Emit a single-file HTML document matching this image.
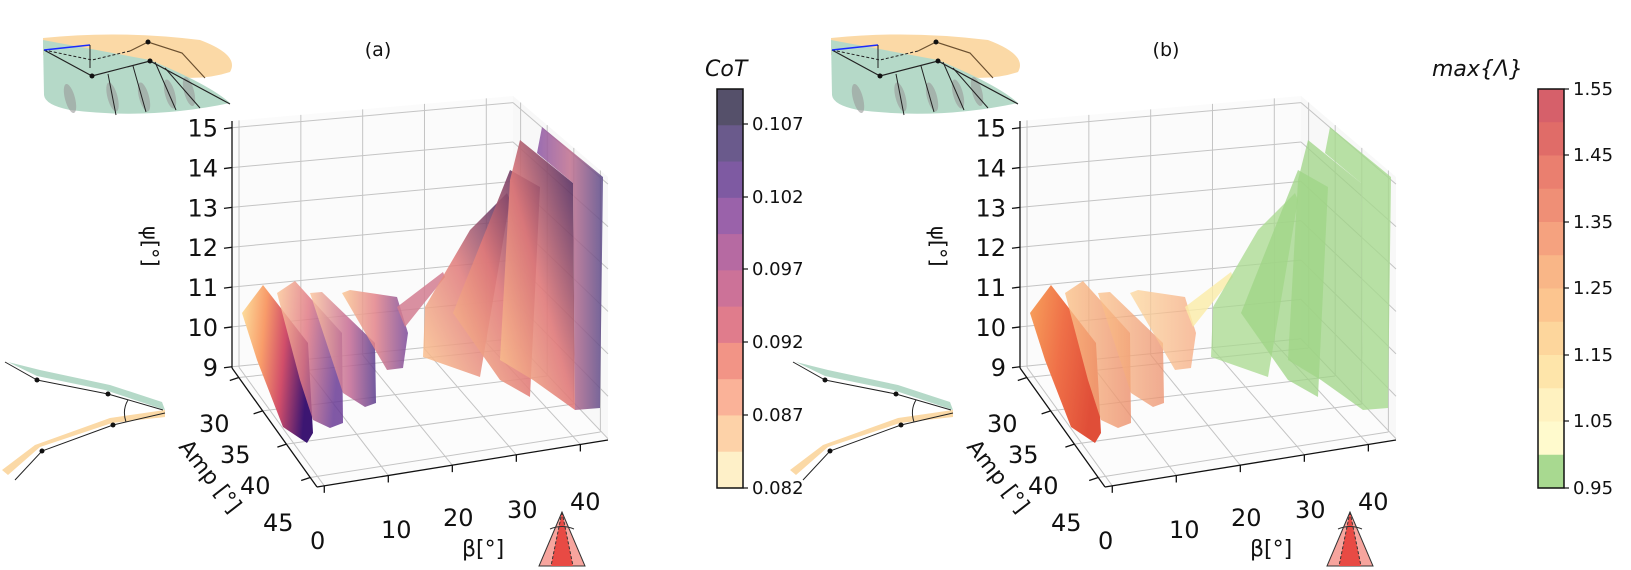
<!DOCTYPE html>
<html><head><meta charset="utf-8"><style>
body{margin:0;background:#fff;}
svg{display:block;font-family:"DejaVu Sans","Liberation Sans",sans-serif;}
</style></head><body>
<svg id="s" width="1631" height="570" viewBox="0 0 1631 570" xmlns="http://www.w3.org/2000/svg">
<defs>
<linearGradient id="ga1" x1="0" y1="0" x2="1" y2="0.2"><stop offset="0" stop-color="#fde3a0"/><stop offset="0.35" stop-color="#f89c6a"/><stop offset="0.65" stop-color="#d14e6a"/><stop offset="1" stop-color="#3c1672"/></linearGradient>
<linearGradient id="ga2" x1="0" y1="0" x2="1" y2="0.2"><stop offset="0" stop-color="#fcc99a"/><stop offset="0.5" stop-color="#e07a86"/><stop offset="1" stop-color="#6a3c96"/></linearGradient>
<linearGradient id="ga3" x1="0" y1="0" x2="1" y2="0"><stop offset="0" stop-color="#fcc7a0"/><stop offset="0.6" stop-color="#c56b94"/><stop offset="1" stop-color="#5a3d8e"/></linearGradient>
<linearGradient id="ga4" x1="0" y1="0" x2="1" y2="0"><stop offset="0" stop-color="#fbc895"/><stop offset="0.5" stop-color="#e3838a"/><stop offset="1" stop-color="#7a4a9a"/></linearGradient>
<linearGradient id="ga6" x1="0" y1="1" x2="1" y2="0"><stop offset="0" stop-color="#fdc890"/><stop offset="0.5" stop-color="#e07a7a"/><stop offset="1" stop-color="#3a1f5c"/></linearGradient>
<linearGradient id="ga9" x1="0" y1="0" x2="1" y2="0"><stop offset="0" stop-color="#8a55a5"/><stop offset="0.5" stop-color="#c0708f"/><stop offset="1" stop-color="#5a4a88"/></linearGradient>
<linearGradient id="gb1" x1="0" y1="0" x2="1" y2="0.3"><stop offset="0" stop-color="#f7a15c"/><stop offset="0.5" stop-color="#ef7048"/><stop offset="1" stop-color="#e04e38"/></linearGradient>
<linearGradient id="gb2" x1="0" y1="0" x2="1" y2="0"><stop offset="0" stop-color="#fbc289"/><stop offset="1" stop-color="#ec8f6c"/></linearGradient>
<linearGradient id="gb3" x1="0" y1="0" x2="1" y2="0"><stop offset="0" stop-color="#fdd89c"/><stop offset="1" stop-color="#f6a980"/></linearGradient>
</defs>
<g id="root"></g>
</svg>
<script>
var NS="http://www.w3.org/2000/svg",root=document.getElementById('root');
function el(t,a,txt){var e=document.createElementNS(NS,t);for(var k in a)e.setAttribute(k,a[k]);if(txt!=null)e.textContent=txt;root.appendChild(e);return e;}
function L(a,b,t){return [a[0]+(b[0]-a[0])*t,a[1]+(b[1]-a[1])*t];}
function line(p,q,c,w){el('line',{x1:p[0],y1:p[1],x2:q[0],y2:q[1],stroke:c,'stroke-width':w||1});}
function poly(pts,f,o,dx){el('polygon',{points:pts.map(function(p){return (p[0]+dx)+','+p[1]}).join(' '),fill:f,'fill-opacity':o});}
function txt(x,y,s,sz,extra){var a={x:x,y:y,'font-size':sz,fill:'#111'};for(var k in extra)a[k]=extra[k];el('text',a,s);}
function panel(dx,shapes,label){
 function P(p){return [p[0]+dx,p[1]];}
 var BL=P([232,368]),BR=P([513,340]),TR=P([513,96]),TL=P([232,121]),FL=P([317,487]),FR=P([608,440]),RT=P([608,177]);
 el('polygon',{points:[BL,BR,TR,TL].join(' '),fill:'#fbfbfb'});
 el('polygon',{points:[BL,BR,FR,FL].join(' '),fill:'#fcfcfc'});
 el('polygon',{points:[BR,FR,RT,TR].join(' '),fill:'#f8f8f8'});
 var g='#c4c4c4';
 var bt=[0.025,0.245,0.465,0.685,0.905];
 bt.forEach(function(t){line(L(BL,BR,t),L(TL,TR,t),g);line(L(BL,BR,t),L(FL,FR,t),g);});
 for(var i=0;i<7;i++){var t=i/6.2+0.005;line(L(BL,TL,t),L(BR,TR,t),g);line(L(BR,TR,t),L(FR,RT,t),g);}
 [0.08,0.36,0.64,0.92].forEach(function(t){line(L(BL,FL,t),L(BR,FR,t),g);line(L(BR,FR,t),L(TR,RT,t),g);});
 line(BL,TL,'#111',1.3);line(BL,FL,'#111',1.3);line(FL,FR,'#111',1.3);
 for(var i=0;i<7;i++){var p=L(BL,TL,i/6.2+0.005);line(p,[p[0]-8,p[1]+1],'#111',1.3);txt(p[0]-14,p[1]+9,''+(9+i),24,{'text-anchor':'end'});}
 var al=['30','35','40','45'];[0.08,0.36,0.64,0.92].forEach(function(t,i){var p=L(BL,FL,t);line(p,[p[0]-9,p[1]+3],'#111',1.3);});
 [[199,432],[220,463],[240,494],[263,531]].forEach(function(q,i){txt(q[0]+dx,q[1],al[i],24);});
 bt.forEach(function(t){var p=L(FL,FR,t);line(p,[p[0],p[1]+7],'#111',1.3);});
 [[310,549,'0'],[381,538,'10'],[443,526,'20'],[507,518,'30'],[570,510,'40']].forEach(function(q){txt(q[0]+dx,q[1],q[2],24);});
 txt(462+dx,556,'β[°]',22);
 el('text',{x:0,y:0,'font-size':21,fill:'#111',transform:'translate('+(143+dx)+',226) rotate(90)'},'ψ[°]');
 el('text',{x:0,y:0,'font-size':22,fill:'#111',transform:'translate('+(178+dx)+',447) rotate(52)'},'Amp [°]');
 txt(378+dx,56,label,19,{'text-anchor':'middle'});
 shapes.forEach(function(s){poly(s[0],s[1],s[2],dx);});
 var cx=562+dx;
 el('polygon',{points:(cx)+',512 '+(cx-23)+',566 '+(cx+23)+',566',fill:'#f7a59e',stroke:'#333','stroke-width':1});
 el('polygon',{points:(cx)+',512 '+(cx-11)+',566 '+(cx+11)+',566',fill:'#e84a44'});
 el('path',{d:'M'+cx+' 512 L'+(cx-11)+' 566 M'+cx+' 512 L'+(cx+11)+' 566',stroke:'#333','stroke-dasharray':'3,2',fill:'none'});
 el('path',{d:'M'+(cx-12)+' 529 Q'+cx+' 524 '+(cx+12)+' 529',stroke:'#333',fill:'none'});
}
function cbar(cb){
 var x0=cb.x,y0=89,h=399,w=26,n=cb.cols.length;
 cb.cols.forEach(function(c,i){el('rect',{x:x0,y:y0+h*i/n,width:w,height:h/n+0.5,fill:c});});
 el('rect',{x:x0,y:y0,width:w,height:h,fill:'none',stroke:'#111','stroke-width':1.5});
 cb.ticks.forEach(function(t){line([x0+w,t[0]],[x0+w+5,t[0]],'#111',1.2);txt(x0+w+9,t[0]+6,t[1],18);});
 txt(cb.tx,76,cb.title,22,{'font-style':'italic'});
}
function wings(dx){
 el('path',{d:'M'+(43+dx)+' 38 Q'+(120+dx)+' 30 '+(200+dx)+' 40 Q'+(240+dx)+' 55 '+(230+dx)+' 72 Q'+(200+dx)+' 82 '+(160+dx)+' 75 L'+(43+dx)+' 55Z',fill:'#fbd9a6'});
 el('path',{d:'M'+(43+dx)+' 40 L'+(150+dx)+' 60 Q'+(210+dx)+' 85 '+(230+dx)+' 103 Q'+(150+dx)+' 120 '+(70+dx)+' 110 Q'+(45+dx)+' 105 '+(44+dx)+' 95Z',fill:'#b5d9c8'});
 [[70,85,70,112],[110,80,115,114],[140,82,148,112],[162,80,178,108],[178,78,200,105]].forEach(function(f){el('ellipse',{cx:(f[0]+f[2])/2+dx,cy:(f[1]+f[3])/2,rx:5,ry:15,fill:'#999','fill-opacity':.6,transform:'rotate(-15 '+((f[0]+f[2])/2+dx)+' '+((f[1]+f[3])/2)+')'});});
 var pl=function(d,c,w,da){var a={d:d,stroke:c,'stroke-width':w||1.2,fill:'none'};if(da)a['stroke-dasharray']=da;el('path',a);};
 pl('M'+(44+dx)+' 50 L'+(92+dx)+' 76 L'+(150+dx)+' 61 L'+(230+dx)+' 104','#222');
 pl('M'+(44+dx)+' 50 L'+(92+dx)+' 60 L'+(130+dx)+' 51','#222',1,'3,2');
 pl('M'+(130+dx)+' 51 L'+(148+dx)+' 42 L'+(182+dx)+' 53 L'+(205+dx)+' 78','#6b5030');
 pl('M'+(44+dx)+' 50 L'+(90+dx)+' 45','#1a2bff',1.6);
 pl('M'+(90+dx)+' 45 L'+(90+dx)+' 68','#222',1);
 pl('M'+(108+dx)+' 74 L'+(116+dx)+' 115 M'+(133+dx)+' 66 L'+(146+dx)+' 112 M'+(155+dx)+' 62 L'+(176+dx)+' 110 M'+(165+dx)+' 68 L'+(200+dx)+' 108','#222',1);
 [[92,76],[150,61],[148,42]].forEach(function(p){el('circle',{cx:p[0]+dx,cy:p[1],r:2.5,fill:'#111'});});
}
function sketch(dx){
 el('path',{d:'M'+(8+dx)+' 362 L'+(37+dx)+' 376 L'+(105+dx)+' 390 L'+(165+dx)+' 410 L'+(162+dx)+' 402 L'+(110+dx)+' 385 L'+(40+dx)+' 370Z',fill:'#b5d9c8'});
 el('path',{d:'M'+(8+dx)+' 475 L'+(40+dx)+' 447 L'+(112+dx)+' 423 L'+(165+dx)+' 417 L'+(165+dx)+' 410 L'+(110+dx)+' 418 L'+(35+dx)+' 445 L'+(2+dx)+' 470Z',fill:'#fbd9a6'});
 el('path',{d:'M'+(5+dx)+' 362 L'+(37+dx)+' 380 L'+(108+dx)+' 394 L'+(163+dx)+' 410',stroke:'#222',fill:'none'});
 el('path',{d:'M'+(15+dx)+' 480 L'+(42+dx)+' 451 L'+(113+dx)+' 425 L'+(165+dx)+' 413',stroke:'#222',fill:'none'});
 [[37,380],[108,394],[42,451],[113,425]].forEach(function(p){el('circle',{cx:p[0]+dx,cy:p[1],r:2.5,fill:'#111'});});
 el('path',{d:'M'+(128+dx)+' 400 Q'+(122+dx)+' 410 '+(126+dx)+' 422',stroke:'#222',fill:'none'});
}
var sA=[
 [[[242,313],[263,285],[308,343],[313,433],[307,443],[283,427],[257,360]],'url(#ga1)',1],
 [[[277,293],[295,281],[342,333],[343,423],[330,428],[313,420],[300,380]],'url(#ga2)',.85],
 [[[310,293],[322,292],[375,343],[376,403],[365,407],[343,393]],'url(#ga3)',.85],
 [[[342,293],[350,290],[397,297],[408,333],[403,368],[387,370],[377,353]],'url(#ga4)',.85],
 [[[397,307],[443,272],[445,277],[405,327]],'#d27c90',.85],
 [[[425,307],[470,230],[507,193],[510,200],[480,377],[423,357]],'url(#ga6)',.85],
 [[[453,313],[510,170],[540,187],[530,397],[500,380]],'url(#ga6)',.9],
 [[[500,360],[510,180],[520,140],[573,183],[575,410],[533,380]],'url(#ga6)',.9],
 [[[537,153],[542,127],[603,177],[600,408],[575,410],[573,183]],'url(#ga9)',.85]
];
var sB=[
 [[[242,313],[263,285],[308,343],[313,433],[307,443],[283,427],[257,360]],'url(#gb1)',1],
 [[[277,293],[295,281],[342,333],[343,423],[330,428],[313,420],[300,380]],'url(#gb2)',.8],
 [[[310,293],[322,292],[375,343],[376,403],[365,407],[343,393]],'url(#gb2)',.75],
 [[[342,293],[350,290],[397,297],[408,333],[403,368],[387,370],[377,353]],'url(#gb3)',.75],
 [[[397,307],[443,272],[445,277],[405,327]],'#fbeca8',.8],
 [[[425,307],[470,230],[507,193],[510,200],[480,377],[423,357]],'#a8d98e',.75],
 [[[453,313],[510,170],[540,187],[530,397],[500,380]],'#9fd486',.75],
 [[[500,360],[510,180],[520,140],[573,183],[575,410],[533,380]],'#9fd486',.75],
 [[[537,153],[542,127],[603,177],[600,408],[575,410],[573,183]],'#a6da8f',.8]
];
wings(0);wings(788);sketch(0);sketch(788);
panel(0,sA,'(a)');
panel(788,sB,'(b)');
cbar({x:717,title:'CoT',tx:705,cols:['#55506a','#6a5a8c','#7e5aa2','#9a62aa','#b66aa2','#cc7298','#e07c8c','#f29486','#fab298','#fdd2a8','#fef0c8'],ticks:[[124,'0.107'],[197,'0.102'],[269,'0.097'],[342,'0.092'],[415,'0.087'],[488,'0.082']]});
cbar({x:1538,title:'max{Λ}',tx:1432,cols:['#d6606a','#e06c68','#ea7f6f','#ef8f76','#f5a27f','#f9b687','#fcc58f','#fdd69c','#fee5aa','#fff2c0','#fffacd','#a8d990'],ticks:[[89,'1.55'],[155,'1.45'],[222,'1.35'],[288,'1.25'],[355,'1.15'],[421,'1.05'],[488,'0.95']]});
</script>
</body></html>
